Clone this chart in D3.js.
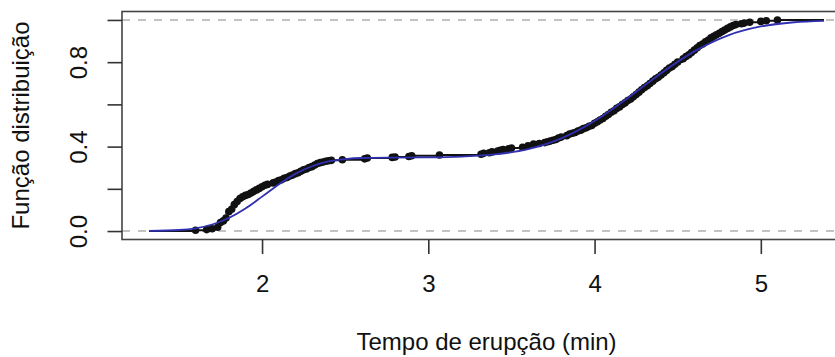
<!DOCTYPE html>
<html>
<head>
<meta charset="utf-8">
<script src="https://cdn.jsdelivr.net/npm/d3@7"></script>
<style>
  body { margin: 0; background: #fff; }
  svg text { font-family: "Liberation Sans", Arial, Helvetica, sans-serif; fill: #111; }
</style>
</head>
<body>
<div id="chart"></div>
<script>
// ECDF knots (eruption time, cumulative proportion)
const knotX = [
  1.600, 1.667, 1.700, 1.733, 1.750, 1.767, 1.783, 1.800, 1.817, 1.833,
  1.850, 1.867, 1.883, 1.900, 1.917, 1.933, 1.950, 1.967, 1.983, 2.000,
  2.017, 2.033, 2.067, 2.083, 2.100, 2.117, 2.133, 2.150, 2.167, 2.183,
  2.200, 2.217, 2.233, 2.250, 2.267, 2.283, 2.300, 2.317, 2.333, 2.350,
  2.367, 2.383, 2.400, 2.417, 2.483, 2.617, 2.633, 2.783, 2.800, 2.883,
  2.900, 3.067, 3.317, 3.333, 3.367, 3.383, 3.417, 3.433, 3.450, 3.483,
  3.500, 3.567, 3.600, 3.633, 3.667, 3.700, 3.717, 3.733, 3.750, 3.767,
  3.783, 3.800, 3.833, 3.850, 3.867, 3.883, 3.900, 3.917, 3.933, 3.950,
  3.967, 3.983, 4.000, 4.017, 4.033, 4.050, 4.067, 4.083, 4.100, 4.117,
  4.133, 4.150, 4.167, 4.183, 4.200, 4.217, 4.233, 4.250, 4.267, 4.283,
  4.300, 4.317, 4.333, 4.350, 4.367, 4.383, 4.400, 4.417, 4.433, 4.450,
  4.467, 4.483, 4.500, 4.533, 4.550, 4.567, 4.583, 4.600, 4.617, 4.633,
  4.650, 4.667, 4.683, 4.700, 4.717, 4.733, 4.750, 4.767, 4.783, 4.800,
  4.817, 4.833, 4.850, 4.883, 4.900, 4.933, 5.000, 5.033, 5.100
];
const knotY = [
  0.004, 0.007, 0.011, 0.018, 0.040, 0.048, 0.062, 0.092, 0.103, 0.125,
  0.140, 0.154, 0.162, 0.169, 0.173, 0.180, 0.188, 0.195, 0.202, 0.210,
  0.217, 0.221, 0.228, 0.232, 0.239, 0.243, 0.250, 0.254, 0.261, 0.265,
  0.272, 0.276, 0.283, 0.290, 0.294, 0.301, 0.305, 0.313, 0.320, 0.324,
  0.327, 0.331, 0.333, 0.335, 0.338, 0.342, 0.346, 0.349, 0.351, 0.353,
  0.357, 0.360, 0.364, 0.368, 0.371, 0.375, 0.379, 0.382, 0.386, 0.390,
  0.393, 0.397, 0.404, 0.412, 0.415, 0.419, 0.423, 0.426, 0.430, 0.434,
  0.441, 0.445, 0.452, 0.460, 0.463, 0.467, 0.474, 0.478, 0.485, 0.489,
  0.496, 0.500, 0.511, 0.518, 0.526, 0.533, 0.544, 0.552, 0.563, 0.570,
  0.581, 0.588, 0.599, 0.607, 0.618, 0.625, 0.636, 0.647, 0.658, 0.669,
  0.680, 0.688, 0.699, 0.710, 0.721, 0.728, 0.739, 0.750, 0.761, 0.772,
  0.779, 0.790, 0.801, 0.816, 0.827, 0.835, 0.846, 0.857, 0.868, 0.879,
  0.886, 0.897, 0.904, 0.915, 0.923, 0.930, 0.937, 0.945, 0.952, 0.960,
  0.967, 0.974, 0.978, 0.982, 0.985, 0.989, 0.993, 0.996, 1.000
];

// fitted distribution curve (blue), read at a few x positions
const fitX = [1.32, 1.5, 1.6, 1.7, 1.8, 1.9, 2.0, 2.1, 2.2, 2.3, 2.4, 2.5, 2.6, 2.8,
              3.0, 3.2, 3.4, 3.6, 3.8, 4.0, 4.2, 4.4, 4.6, 4.8, 5.0, 5.2, 5.38];
const fitY = [0.001, 0.005, 0.013, 0.031, 0.062, 0.107, 0.163, 0.221, 0.271, 0.307,
              0.330, 0.341, 0.346, 0.348, 0.349, 0.353, 0.363, 0.388, 0.439, 0.521,
              0.630, 0.748, 0.851, 0.926, 0.969, 0.989, 0.996];

// axis ticks
const xTicks = [2, 3, 4, 5];
const yTicks = [0, 0.2, 0.4, 0.6, 0.8, 1.0];
const yLabelled = [0, 0.4, 0.8];

const width = 835, height = 357;
const box = { left: 122, right: 851, top: 11.5, bottom: 239.5 };
const xlim = [1.32, 5.38];   // step function limits, plot adds 4% each side
const lh = 29;               // one margin line, px
const fontPx = "24px";

const pad = 0.04 * (xlim[1] - xlim[0]);
const x = d3.scaleLinear().domain([xlim[0] - pad, xlim[1] + pad]).range([box.left, box.right]);
const y = d3.scaleLinear().domain([-0.04, 1.04]).range([box.bottom, box.top]);

const svg = d3.select("#chart").append("svg")
  .attr("width", width)
  .attr("height", height)
  .style("display", "block");

svg.append("defs").append("clipPath").attr("id", "plotclip")
  .append("rect")
  .attr("x", box.left).attr("y", box.top)
  .attr("width", box.right - box.left).attr("height", box.bottom - box.top);

const plot = svg.append("g").attr("clip-path", "url(#plotclip)");

// dashed reference lines at 0 and 1
plot.selectAll("line.ref")
  .data([0, 1])
  .enter().append("line")
  .attr("class", "ref")
  .attr("x1", box.left).attr("x2", box.right)
  .attr("y1", d => y(d)).attr("y2", d => y(d))
  .attr("stroke", "#b0b0b0")
  .attr("stroke-width", 1.6)
  .attr("stroke-dasharray", "8,8");

// ECDF: horizontal steps then the points
const steps = [{ x0: xlim[0], x1: knotX[0], v: 0 }];
knotX.forEach((k, i) => {
  steps.push({ x0: k, x1: i < knotX.length - 1 ? knotX[i + 1] : xlim[1], v: knotY[i] });
});

plot.selectAll("line.step")
  .data(steps)
  .enter().append("line")
  .attr("class", "step")
  .attr("x1", d => x(d.x0)).attr("x2", d => x(d.x1))
  .attr("y1", d => y(d.v)).attr("y2", d => y(d.v))
  .attr("stroke", "#111")
  .attr("stroke-width", 2);

plot.selectAll("circle.pt")
  .data(knotX)
  .enter().append("circle")
  .attr("class", "pt")
  .attr("cx", d => x(d))
  .attr("cy", (d, i) => y(knotY[i]))
  .attr("r", 3.8)
  .attr("fill", "#111");

// fitted curve
const line = d3.line()
  .x(d => x(d[0]))
  .y(d => y(d[1]))
  .curve(d3.curveMonotoneX);

plot.append("path")
  .datum(fitX.map((v, i) => [v, fitY[i]]))
  .attr("d", line)
  .attr("fill", "none")
  .attr("stroke", "#3030b0")
  .attr("stroke-width", 1.8);

// plot box
svg.append("rect")
  .attr("x", box.left).attr("y", box.top)
  .attr("width", box.right - box.left).attr("height", box.bottom - box.top)
  .attr("fill", "none")
  .attr("stroke", "#444")
  .attr("stroke-width", 1.6);

// x axis: labels sit 1.8 lines out, title 3.8 lines out (R line bias)
const xAxis = svg.append("g")
  .attr("transform", "translate(0," + box.bottom + ")")
  .call(d3.axisBottom(x).tickValues(xTicks).tickSize(lh / 2).tickFormat(d3.format("d")));
xAxis.select(".domain").remove();
xAxis.selectAll(".tick line").attr("stroke", "#333").attr("stroke-width", 1.6);
xAxis.selectAll(".tick text")
  .attr("y", 1.8 * lh).attr("dy", null)
  .style("font-size", fontPx).style("font-family", "Liberation Sans, Arial, sans-serif");

// y axis: labels 1.2 lines out, title 3.2 lines out
const yAxis = svg.append("g")
  .attr("transform", "translate(" + box.left + ",0)")
  .call(d3.axisLeft(y).tickValues(yTicks).tickSize(lh / 2)
    .tickFormat(d => yLabelled.includes(d) ? d3.format(".1f")(d) : ""));
yAxis.select(".domain").remove();
yAxis.selectAll(".tick line").attr("stroke", "#333").attr("stroke-width", 1.6);
yAxis.selectAll(".tick text")
  .attr("x", null).attr("dy", null)
  .attr("transform", "translate(" + (-1.2 * lh) + ",0) rotate(-90)")
  .attr("text-anchor", "middle")
  .style("font-size", fontPx).style("font-family", "Liberation Sans, Arial, sans-serif");

// axis titles
svg.append("text")
  .attr("x", (box.left + box.right) / 2)
  .attr("y", box.bottom + 3.8 * lh)
  .attr("text-anchor", "middle")
  .style("font-size", fontPx)
  .text("Tempo de erupção (min)");

svg.append("text")
  .attr("transform", "translate(" + (box.left - 3.2 * lh) + "," + (box.top + box.bottom) / 2 + ") rotate(-90)")
  .attr("text-anchor", "middle")
  .style("font-size", fontPx)
  .text("Função distribuição");
</script>
</body>
</html>
